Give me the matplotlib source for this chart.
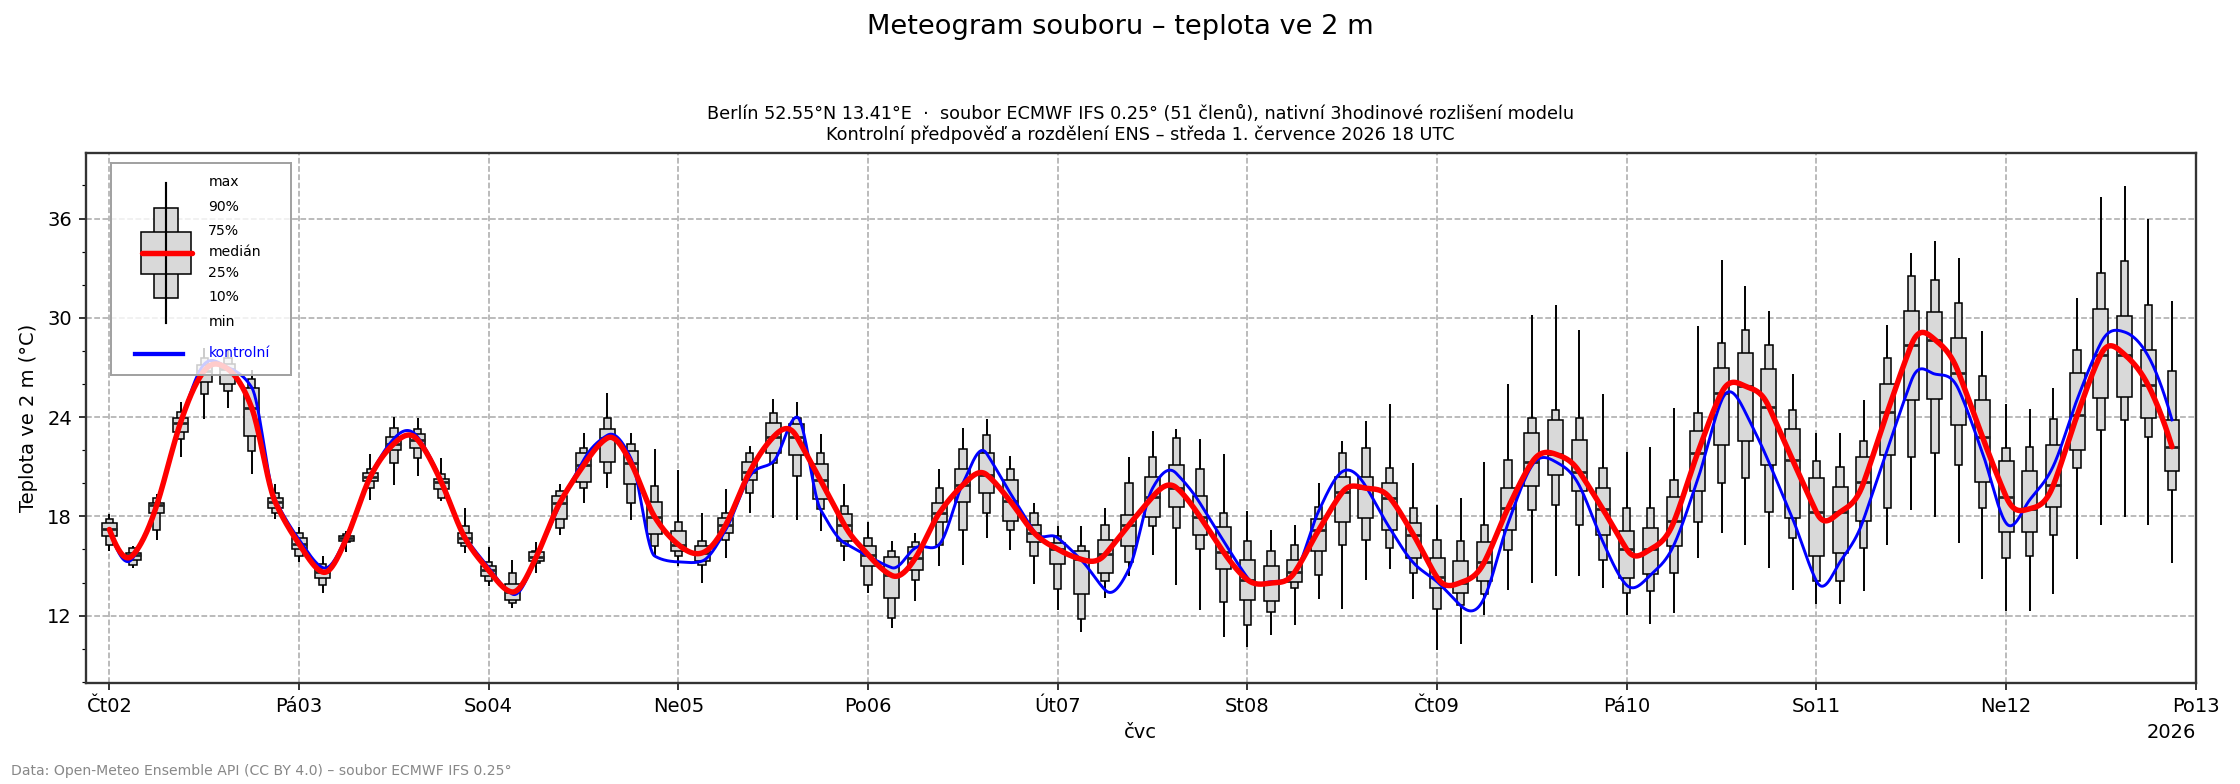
import numpy as np
import pandas as pd
import matplotlib
matplotlib.use("Agg")
import matplotlib.pyplot as plt
import matplotlib.dates as mdates
from matplotlib.patches import Rectangle
from matplotlib.ticker import MultipleLocator, FixedLocator

# ---------------- data (°C), 3-hourly from 2026-07-02 00 UTC ----------------
start_time = "2026-07-02 00:00"
n_steps = 88

t_min = [15.93, 14.87, 16.59, 21.57, 23.90, 24.55, 20.59, 17.87, 15.23, 13.39, 15.87, 18.97,
         19.87, 20.47, 18.93, 15.79, 13.79, 12.49, 14.57, 16.87, 18.83, 19.73, 17.77, 15.63,
         15.03, 13.99, 15.47, 18.23, 17.89, 17.77, 17.09, 15.29, 13.39, 11.27, 12.89, 15.03,
         15.05, 16.70, 15.97, 13.90, 12.35, 11.01, 13.08, 14.42, 15.66, 13.84, 12.35, 10.74,
         10.12, 10.84, 11.42, 13.01, 12.39, 14.15, 14.79, 13.00, 9.93, 10.30, 12.04, 13.58,
         14.00, 14.39, 14.39, 13.68, 12.04, 11.48, 12.18, 15.49, 17.01, 16.25, 14.91, 13.58,
         12.68, 12.68, 13.50, 16.25, 18.40, 17.98, 16.41, 14.19, 12.28, 12.30, 13.28, 15.41,
         17.45, 17.95, 17.45, 15.21]
t_p10 = [16.27, 15.07, 17.17, 22.67, 25.40, 25.55, 21.93, 18.23, 15.59, 13.87, 16.47, 19.73,
         21.23, 21.53, 19.09, 16.19, 14.09, 12.77, 15.17, 17.27, 19.73, 20.63, 18.83, 16.23,
         15.59, 15.07, 16.57, 19.43, 21.23, 20.43, 18.47, 16.23, 13.87, 11.87, 14.17, 16.27,
         17.17, 18.19, 17.17, 15.60, 13.59, 11.77, 14.11, 15.25, 17.42, 17.32, 16.01, 12.81,
         11.46, 12.21, 13.70, 14.48, 16.28, 16.59, 16.08, 14.59, 12.38, 12.64, 13.28, 15.99,
         18.36, 18.66, 17.45, 15.39, 13.38, 13.50, 14.59, 17.65, 20.00, 20.30, 18.26, 16.71,
         14.11, 14.11, 16.11, 18.50, 21.60, 21.81, 21.10, 18.50, 15.51, 15.61, 16.89, 20.92,
         23.21, 23.81, 22.81, 19.60]
t_p25 = [16.79, 15.35, 18.19, 23.09, 26.10, 26.00, 22.87, 18.49, 16.03, 14.27, 16.49, 20.13,
         22.03, 22.13, 19.67, 16.37, 14.39, 12.97, 15.29, 17.87, 20.09, 21.29, 19.93, 16.91,
         15.89, 15.29, 16.97, 20.17, 21.83, 21.73, 19.07, 16.49, 14.99, 13.07, 14.77, 17.67,
         18.85, 19.39, 17.73, 16.43, 15.15, 13.32, 14.59, 16.22, 17.98, 18.56, 16.86, 14.79,
         12.93, 12.87, 14.01, 15.93, 17.67, 17.90, 17.15, 15.51, 13.68, 13.38, 14.11, 17.19,
         19.82, 20.52, 19.56, 16.89, 14.29, 14.49, 16.21, 19.52, 22.33, 22.53, 21.10, 17.89,
         15.61, 15.81, 17.71, 21.70, 25.03, 25.12, 23.51, 20.06, 17.05, 17.05, 18.56, 22.00,
         25.17, 25.21, 23.97, 20.72]
t_med = [17.21, 15.67, 18.69, 23.67, 26.80, 26.90, 24.57, 18.85, 16.33, 14.63, 16.67, 20.37,
         22.39, 22.63, 20.07, 16.69, 14.73, 13.43, 15.53, 18.83, 21.09, 22.73, 21.23, 17.97,
         16.29, 15.79, 17.49, 20.67, 22.79, 22.79, 20.17, 17.49, 15.69, 14.43, 15.49, 18.19,
         19.90, 20.52, 18.91, 17.01, 16.01, 15.40, 15.70, 17.48, 19.18, 19.74, 17.98, 15.83,
         14.17, 13.97, 14.63, 17.15, 19.45, 19.70, 19.14, 16.90, 14.31, 14.00, 15.25, 18.52,
         21.26, 21.76, 20.70, 18.42, 16.01, 16.01, 17.71, 21.86, 25.47, 25.87, 24.61, 21.40,
         18.26, 18.26, 20.06, 24.33, 28.34, 28.68, 26.68, 22.81, 19.20, 18.46, 19.90, 24.11,
         27.78, 27.78, 25.91, 22.21]
t_p75 = [17.60, 15.79, 18.83, 23.93, 27.15, 27.20, 25.77, 19.13, 16.71, 14.87, 16.83, 20.63,
         22.79, 22.97, 20.27, 16.97, 14.99, 13.89, 15.87, 19.23, 21.83, 23.27, 21.93, 18.89,
         17.09, 16.19, 17.93, 21.29, 23.63, 23.57, 21.17, 18.13, 16.19, 15.53, 16.13, 18.83,
         20.88, 21.83, 20.21, 17.46, 16.39, 15.91, 16.55, 18.10, 20.36, 21.08, 19.24, 17.38,
         15.35, 14.98, 15.35, 17.83, 20.36, 20.38, 20.01, 17.59, 15.51, 15.31, 16.45, 19.70,
         23.01, 23.81, 22.61, 19.70, 17.11, 17.29, 19.16, 23.13, 26.98, 27.88, 26.92, 23.31,
         20.30, 19.76, 21.56, 26.02, 30.39, 30.33, 28.78, 25.01, 21.32, 20.72, 22.33, 26.68,
         30.53, 30.13, 28.04, 23.83]
t_p90 = [17.85, 16.07, 19.09, 24.31, 27.60, 27.60, 26.29, 19.43, 16.97, 15.13, 16.93, 20.87,
         23.33, 23.27, 20.59, 17.43, 15.27, 14.57, 15.93, 19.53, 22.13, 23.93, 22.37, 19.83,
         17.63, 16.49, 18.23, 21.83, 24.23, 23.93, 21.83, 18.63, 16.67, 15.89, 16.47, 19.73,
         22.10, 22.90, 20.88, 18.19, 16.84, 16.18, 17.46, 20.01, 21.56, 22.74, 20.88, 18.19,
         16.49, 15.91, 16.24, 18.56, 21.81, 22.12, 20.94, 18.50, 16.59, 16.51, 17.45, 21.40,
         23.97, 24.41, 23.93, 20.90, 18.50, 18.50, 20.20, 24.27, 28.48, 29.24, 28.34, 24.41,
         21.36, 20.96, 22.57, 27.58, 32.55, 32.27, 30.89, 26.48, 22.11, 22.17, 23.91, 28.04,
         32.69, 33.43, 30.75, 26.78]
t_max = [18.17, 16.19, 19.33, 24.93, 28.20, 28.10, 26.83, 19.97, 17.37, 15.63, 17.09, 21.79,
         24.03, 23.93, 21.53, 18.53, 16.13, 15.37, 16.47, 19.97, 23.03, 25.43, 23.03, 22.07,
         20.83, 18.23, 19.67, 22.23, 25.07, 24.93, 22.97, 19.97, 17.63, 16.49, 16.97, 20.87,
         23.35, 23.88, 21.66, 18.83, 17.42, 17.42, 18.50, 21.56, 23.15, 23.28, 22.70, 21.77,
         18.35, 17.15, 17.46, 20.01, 22.55, 23.77, 24.77, 21.25, 18.66, 19.10, 21.26, 26.02,
         30.15, 30.75, 29.24, 25.41, 21.90, 22.17, 24.57, 29.52, 33.49, 31.95, 30.39, 26.62,
         23.01, 23.01, 25.01, 29.54, 33.89, 34.66, 33.59, 29.18, 24.81, 24.51, 25.77, 31.19,
         37.30, 37.96, 35.96, 30.99]
t_control = [17.20, 15.50, 18.80, 23.60, 27.20, 27.00, 25.80, 19.00, 16.60, 14.90, 16.80, 20.40,
             22.70, 22.80, 20.20, 16.80, 14.90, 13.30, 15.50, 18.70, 21.40, 22.90, 21.50, 15.60,
             15.25, 15.30, 17.20, 20.40, 21.30, 24.00, 18.40, 16.40, 15.60, 14.90, 16.10, 16.30,
             20.00, 21.80, 19.40, 17.10, 16.70, 15.35, 13.55, 14.80, 19.70, 20.60, 18.80, 16.50,
             14.30, 14.05, 14.60, 18.30, 20.70, 19.80, 17.30, 15.20, 14.05, 12.60, 13.10, 17.60,
             21.06, 21.30, 19.86, 16.45, 13.84, 14.45, 16.30, 20.26, 25.00, 24.30, 21.26, 17.85,
             14.10, 15.25, 17.85, 22.07, 26.18, 26.60, 25.67, 21.86, 17.60, 19.00, 21.06, 25.07,
             28.48, 29.14, 27.68, 23.83]

tick_dates = pd.date_range("2026-07-02", "2026-07-13", freq="D")
tick_labels = ["Čt02", "Pá03", "So04", "Ne05", "Po06", "Út07", "St08",
               "Čt09", "Pá10", "So11", "Ne12", "Po13"]
legend_labels = ["max", "90%", "75%", "medián", "25%", "10%", "min"]


# ---------------- helpers ----------------
def akima(xk, yk, xn):
    xk = np.asarray(xk, float)
    yk = np.asarray(yk, float)
    n = len(xk)
    h = np.diff(xk)
    m = np.diff(yk) / h
    mm = np.empty(n + 3)
    mm[2:n + 1] = m
    mm[1] = 2 * mm[2] - mm[3]
    mm[0] = 2 * mm[1] - mm[2]
    mm[n + 1] = 2 * mm[n] - mm[n - 1]
    mm[n + 2] = 2 * mm[n + 1] - mm[n]
    dm = np.abs(np.diff(mm))
    w1 = dm[2:n + 2]   # |m_{i+1} - m_i|
    w2 = dm[0:n]       # |m_{i-1} - m_{i-2}|
    ml = mm[1:n + 1]   # m_{i-1}
    mr = mm[2:n + 2]   # m_i
    den = w1 + w2
    with np.errstate(invalid="ignore", divide="ignore"):
        t = np.where(den > 1e-12, (w1 * ml + w2 * mr) / den, 0.5 * (ml + mr))
    idx = np.clip(np.searchsorted(xk, xn) - 1, 0, n - 2)
    s = (xn - xk[idx]) / h[idx]
    h00 = 2 * s**3 - 3 * s**2 + 1
    h10 = s**3 - 2 * s**2 + s
    h01 = -2 * s**3 + 3 * s**2
    h11 = s**3 - s**2
    return h00 * yk[idx] + h10 * h[idx] * t[idx] + h01 * yk[idx + 1] + h11 * h[idx] * t[idx + 1]


# ---------------- figure ----------------
W, H = 2240, 784
fig = plt.figure(figsize=(16, 5.6), dpi=140)
ax = fig.add_axes([85.7 / W, 1 - 683 / H, (2195.7 - 85.7) / W, (683 - 153) / H])

times = pd.date_range(start_time, periods=n_steps, freq="3h")
x = mdates.date2num(times.to_pydatetime())
step = x[1] - x[0]
w_wide = step * 0.63
w_narrow = step * 0.31

box_face = "#d9d9d9"
ax.vlines(x, t_min, t_max, color="black", lw=1.0, zorder=2)
for xi, lo, q1, q3, hi in zip(x, t_p10, t_p25, t_p75, t_p90):
    ax.add_patch(Rectangle((xi - w_narrow / 2, lo), w_narrow, hi - lo,
                           facecolor=box_face, edgecolor="black", lw=0.8, zorder=3))
    ax.add_patch(Rectangle((xi - w_wide / 2, q1), w_wide, q3 - q1,
                           facecolor=box_face, edgecolor="black", lw=0.8, zorder=3.5))
ax.hlines(t_med, x - w_wide / 2, x + w_wide / 2, color="#222222", lw=1.4, zorder=4)

xs = np.linspace(x[0], x[-1], 3000)
ax.plot(xs, akima(x, t_control, xs), color="blue", lw=1.5, zorder=5)
ax.plot(xs, akima(x, t_med, xs), color="red", lw=2.8, zorder=6,
        solid_capstyle="round")

ax.set_xlim(x[0] - step, x[-1] + step)
ax.set_ylim(min(t_min) - 2, max(t_max) + 2)

ax.xaxis.set_major_locator(FixedLocator(mdates.date2num(tick_dates.to_pydatetime())))
ax.set_xticklabels(tick_labels)
ax.yaxis.set_major_locator(MultipleLocator(6))
ax.yaxis.set_minor_locator(MultipleLocator(2))
ax.tick_params(axis="both", labelsize=10)

ax.set_axisbelow(True)
ax.grid(True, which="major", linestyle="--", color="#aaaaaa", lw=0.8)
for s in ax.spines.values():
    s.set_linewidth(1.2)
    s.set_edgecolor("#333333")

ax.set_ylabel("Teplota ve 2 m (°C)", fontsize=10)
ax.yaxis.set_label_coords((28.6 - 85.7) / 2110, 0.5)
ax.yaxis.label.set_va("center")
ax.set_xlabel("čvc", fontsize=10)
ax.xaxis.set_label_coords(0.5, -(732 - 683) / 530)
ax.xaxis.label.set_va("center")
ax.text(1.0, -(732 - 683) / 530, "2026", transform=ax.transAxes,
        ha="right", va="center", fontsize=10)

fig.suptitle("Meteogram souboru – teplota ve 2 m", fontsize=14, y=1 - 27 / H, va="center")
ax.set_title("Berlín 52.55°N 13.41°E  ·  soubor ECMWF IFS 0.25° (51 členů), nativní 3hodinové rozlišení modelu\n"
             "Kontrolní předpověď a rozdělení ENS – středa 1. července 2026 18 UTC",
             fontsize=9.1, pad=6.5)
fig.text(11 / W, 1 - 771 / H, "Data: Open-Meteo Ensemble API (CC BY 4.0) – soubor ECMWF IFS 0.25°",
         fontsize=7.2, color="#888888", ha="left", va="center")

# ---------------- custom legend (pixel coordinates) ----------------
lx0, lx1, ly0, ly1 = 111, 291.3, 162.7, 375.3
lax = fig.add_axes([lx0 / W, 1 - ly1 / H, (lx1 - lx0) / W, (ly1 - ly0) / H])
lax.set_xlim(lx0, lx1)
lax.set_ylim(ly1, ly0)
lax.set_xticks([])
lax.set_yticks([])
lax.patch.set_facecolor("white")
lax.patch.set_alpha(0.8)
for s in lax.spines.values():
    s.set_edgecolor("#a0a0a0")
    s.set_linewidth(1.0)
lax.add_patch(Rectangle((154.3, 208.3), 24, 90, facecolor=box_face, edgecolor="black", lw=0.8))
lax.add_patch(Rectangle((141.3, 232), 50, 42.3, facecolor=box_face, edgecolor="black", lw=0.8))
lax.plot([166, 166], [183.3, 322.7], color="black", lw=1.1)
lax.plot([141.5, 191.5], [253.3, 253.3], color="red", lw=2.8, solid_capstyle="round")
label_y = [182.3, 206.7, 230.7, 252.3, 273.3, 296.7, 321.7]
for yy, lab in zip(label_y, legend_labels):
    lax.text(208.3, yy, lab, fontsize=7.2, va="center", ha="left")
lax.plot([135, 182.7], [354, 354], color="blue", lw=2.2)
lax.text(208.3, 353, "kontrolní", fontsize=7.2, color="blue", va="center", ha="left")

fig.savefig("out.png", dpi=140)
